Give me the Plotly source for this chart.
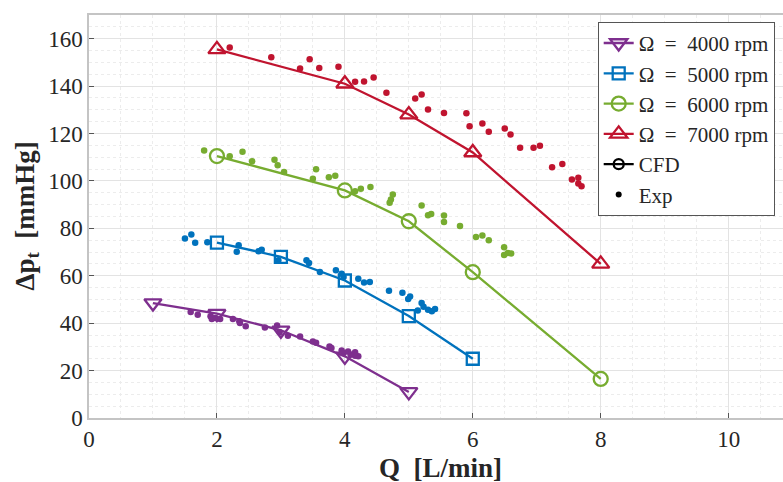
import plotly.graph_objects as go

# CFD data
cfd_q_4000 = [1, 2, 3, 4, 5]
cfd_p_4000 = [48.5, 44, 37, 26, 11]
cfd_q_5000 = [2, 3, 4, 5, 6]
cfd_p_5000 = [74, 68, 58, 43, 25]
cfd_q_6000 = [2, 4, 5, 6, 8]
cfd_p_6000 = [110.5, 96, 83, 61.5, 16.5]
cfd_q_7000 = [2, 4, 5, 6, 8]
cfd_p_7000 = [155.5, 141, 128, 112, 65]

# Experimental data
exp_q_4000 = [1.59, 1.70, 1.90, 1.92, 1.98, 2.05, 2.25, 2.35, 2.36, 2.45, 2.75, 2.94, 2.98, 3.11,
              3.30, 3.50, 3.55, 3.76, 3.79, 3.95, 3.98, 4.05, 4.09, 4.16, 4.21, 4.16]
exp_p_4000 = [44.7, 43.6, 42.9, 41.8, 42.2, 41.8, 41.8, 40.8, 40.1, 38.7, 38.2, 39.0, 36.2, 34.7,
              34.4, 32.3, 31.7, 30.2, 29.5, 28.5, 27.4, 28.1, 26.7, 26.3, 26.0, 27.7]
exp_q_5000 = [1.50, 1.60, 1.66, 1.85, 2.31, 2.34, 2.65, 2.70, 2.96, 3.40, 3.44, 3.61, 3.86, 3.95,
              3.98, 4.21, 4.30, 4.39, 4.69, 4.90, 4.99, 5.02, 5.20, 5.23, 5.30, 5.36, 5.41, 5.14]
exp_p_5000 = [75.7, 77.4, 73.9, 74.1, 70.1, 72.9, 70.3, 71.0, 66.5, 66.5, 65.4, 61.6, 62.3, 60.9,
              59.5, 58.7, 57.2, 57.4, 53.7, 52.8, 50.2, 51.3, 48.5, 46.9, 45.7, 45.0, 46.0, 45.4]
exp_q_6000 = [1.80, 2.20, 2.40, 2.55, 2.90, 2.95, 3.05, 3.50, 3.55, 3.75, 3.85, 4.16, 4.25, 4.40,
              4.70, 4.72, 4.75, 5.20, 5.30, 5.35, 5.55, 5.55, 5.80, 6.05, 6.15, 6.25, 6.49, 6.49,
              6.55, 6.60]
exp_p_6000 = [112.8, 110.4, 112.3, 108.3, 108.9, 106.6, 103.8, 100.9, 104.9, 101.6, 102.2, 95.7,
              96.7, 97.4, 90.8, 92.2, 94.3, 89.6, 85.5, 86.1, 85.4, 82.7, 81.0, 76.4, 77.0, 75.0,
              72.0, 68.8, 69.6, 69.4]
exp_q_7000 = [2.20, 2.85, 3.30, 3.45, 3.60, 3.90, 4.16, 4.30, 4.45, 4.65, 5.10, 5.20, 5.30, 5.55,
              5.90, 5.95, 6.15, 6.25, 6.50, 6.59, 6.74, 6.95, 7.05, 7.24, 7.40, 7.55, 7.65, 7.65,
              7.70]
exp_p_7000 = [156.3, 152.2, 147.4, 151.3, 147.6, 148.2, 141.8, 141.9, 143.6, 137.2, 134.8, 136.5,
              130.1, 128.7, 128.6, 123.1, 124.2, 120.7, 122.1, 119.6, 114.0, 114.0, 114.8, 105.8,
              107.1, 100.6, 101.3, 98.9, 97.8]

labels = ["Ω\u2002=\u20024000 rpm", "Ω\u2002=\u20025000 rpm",
          "Ω\u2002=\u20026000 rpm", "Ω\u2002=\u20027000 rpm"]
colors = ["#7E2F8E", "#0072BD", "#77AC30", "#C0142F"]
symbols = ["triangle-down-open", "square-open", "circle-open", "triangle-up-open"]
msizes = [15, 12, 14, 15]

cfd_q = [cfd_q_4000, cfd_q_5000, cfd_q_6000, cfd_q_7000]
cfd_p = [cfd_p_4000, cfd_p_5000, cfd_p_6000, cfd_p_7000]
exp_q = [exp_q_4000, exp_q_5000, exp_q_6000, exp_q_7000]
exp_p = [exp_p_4000, exp_p_5000, exp_p_6000, exp_p_7000]

FONT = "Liberation Serif"
TXT = "#262626"

fig = go.Figure()
for i in range(4):
    fig.add_trace(go.Scatter(
        x=exp_q[i], y=exp_p[i], mode="markers", showlegend=False,
        marker=dict(color=colors[i], size=6.5, line=dict(width=0)),
    ))
for i in range(4):
    fig.add_trace(go.Scatter(
        x=cfd_q[i], y=cfd_p[i], mode="lines+markers", name=labels[i],
        line=dict(color=colors[i], width=2.3),
        marker=dict(symbol=symbols[i], size=msizes[i], color=colors[i],
                    line=dict(width=2.3, color=colors[i])),
    ))
fig.add_trace(go.Scatter(
    x=[None], y=[None], mode="lines+markers", name="CFD",
    line=dict(color="black", width=2.3),
    marker=dict(symbol="circle-open", size=10, color="black", line=dict(width=2.3)),
))
fig.add_trace(go.Scatter(
    x=[None], y=[None], mode="markers", name="Exp",
    marker=dict(color="black", size=6),
))

axis_common = dict(
    showline=True, linecolor="#c4c4c4", linewidth=1.5, mirror=True,
    ticks="inside", ticklen=5, tickcolor="#555555",
    showgrid=True, gridcolor="#e3e3e3", gridwidth=1,
    zeroline=False, automargin=False,
    tickfont=dict(family=FONT, size=23, color=TXT),
)

fig.update_layout(
    width=783, height=482,
    margin=dict(l=89, r=0, t=15, b=64, autoexpand=False),
    paper_bgcolor="white", plot_bgcolor="white",
    font=dict(family=FONT, color=TXT),
    showlegend=True,
    legend=dict(
        x=0.733, y=0.983, xanchor="left", yanchor="top",
        bgcolor="white", bordercolor="#555555", borderwidth=1,
        font=dict(family=FONT, size=21, color=TXT),
        tracegroupgap=0, itemwidth=30,
    ),
)
fig.update_xaxes(
    range=[0, 10.85], tickvals=[0, 2, 4, 6, 8, 10],
    minor=dict(dtick=0.5, tick0=0, showgrid=True, gridcolor="#ececec", griddash="dot", ticks=""),
    **axis_common,
)
fig.update_yaxes(
    range=[0, 170], tickvals=[0, 20, 40, 60, 80, 100, 120, 140, 160],
    minor=dict(dtick=5, tick0=0, showgrid=True, gridcolor="#ececec", griddash="dot", ticks=""),
    **axis_common,
)
fig.add_annotation(
    x=5.5, xref="x", y=0, yref="paper", yanchor="middle", yshift=-50, showarrow=False,
    text="<b>Q\u2002[L/min]</b>", font=dict(family=FONT, size=27, color=TXT),
)
fig.add_annotation(
    x=0, xref="paper", xanchor="center", xshift=-63, y=0.5, yref="paper", yanchor="middle",
    showarrow=False, textangle=-90,
    text="<b>Δp<sub>t</sub>\u2002[mmHg]</b>", font=dict(family=FONT, size=27, color=TXT),
)

fig.write_html("out.html", config={"displayModeBar": False},
               post_script="document.body.style.margin='0';document.body.style.overflow='hidden';")
